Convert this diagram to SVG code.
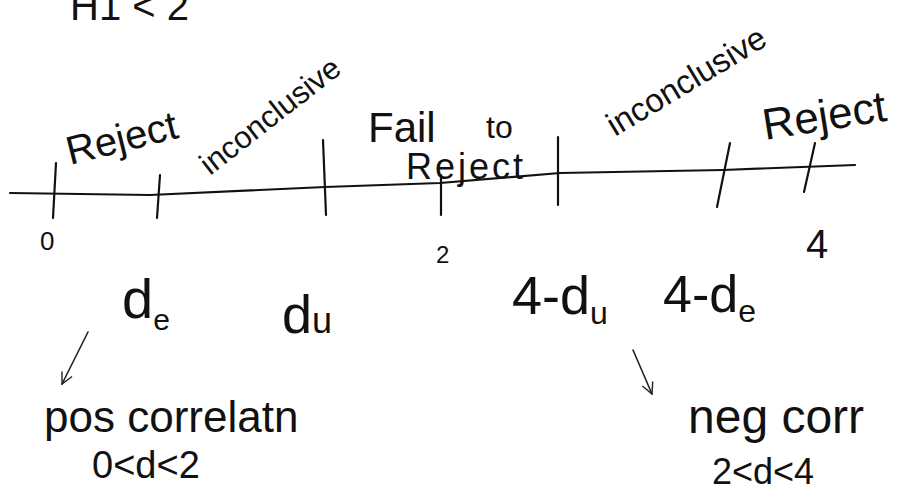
<svg xmlns="http://www.w3.org/2000/svg" width="913" height="491" viewBox="0 0 913 491">
<defs>
<style>
.t{font-family:"Liberation Sans","DejaVu Sans",sans-serif;fill:#111;}
.ln{stroke:#111;stroke-width:2.2;fill:none;stroke-linecap:round;}
.ar{stroke:#222;stroke-width:1.6;fill:none;stroke-linecap:round;}
</style>
<marker id="head" viewBox="0 0 20 20" refX="18" refY="10" markerWidth="14" markerHeight="14" orient="auto" markerUnits="userSpaceOnUse">
<path d="M2,2 L18,10 L2,18" fill="none" stroke="#222" stroke-width="2"/>
</marker>
</defs>
<rect width="913" height="491" fill="#fff"/>
<g id="title">
<text class="t" x="70" y="20" font-size="40">H1 &lt; 2</text>
</g>
<g id="axis">
<path class="ln" d="M10,193 L150,195 L325,187 L440,183 L560,173 L723,170 L855,165"/>
</g>
<g id="ticks">
<line class="ln" x1="56" y1="163" x2="53" y2="218"/>
<line class="ln" x1="160" y1="175" x2="157" y2="218"/>
<line class="ln" x1="323" y1="140" x2="326" y2="215"/>
<line class="ln" x1="441" y1="175" x2="441" y2="215"/>
<line class="ln" x1="558" y1="137" x2="558" y2="205"/>
<line class="ln" x1="730" y1="143" x2="717" y2="207"/>
<line class="ln" x1="815" y1="143" x2="804" y2="192"/>
</g>
<g id="region-reject-left">
<text class="t" x="70" y="165" font-size="40" transform="rotate(-14 70 165)">Reject</text>
</g>
<g id="region-inconclusive-left">
<text class="t" x="210" y="176" font-size="31" transform="rotate(-38 210 176)">inconclusive</text>
</g>
<g id="region-fail">
<text class="t" x="368" y="142" font-size="42">Fail<tspan x="486" y="138" font-size="32">to</tspan></text>
<text class="t" x="406" y="179" font-size="36" letter-spacing="3">Reject</text>
</g>
<g id="region-inconclusive-right">
<text class="t" x="615" y="137" font-size="33" transform="rotate(-31 615 137)">inconclusive</text>
</g>
<g id="region-reject-right">
<text class="t" x="765" y="140" font-size="44" transform="rotate(-9 765 140)">Reject</text>
</g>
<g id="labels">
<text class="t" x="40" y="250" font-size="26">0</text>
<text class="t" x="436" y="263" font-size="24">2</text>
<text class="t" x="806" y="258" font-size="40">4</text>
<text class="t" x="122" y="318" font-size="56">d<tspan font-size="30" dy="12">e</tspan></text>
<text class="t" x="282" y="333" font-size="54">d<tspan font-size="36">u</tspan></text>
<text class="t" x="512" y="314" font-size="54">4-d<tspan font-size="32" dy="10">u</tspan></text>
<text class="t" x="663" y="312" font-size="52">4-d<tspan font-size="32" dy="10">e</tspan></text>
</g>
<g id="connectors">
<line class="ar" x1="88" y1="332" x2="62" y2="384" marker-end="url(#head)"/>
<line class="ar" x1="633" y1="350" x2="652" y2="394" marker-end="url(#head)"/>
</g>
<g id="note-pos">
<text class="t" x="44" y="432" font-size="44">pos correlatn</text>
<text class="t" x="92" y="478" font-size="38">0&lt;d&lt;2</text>
</g>
<g id="note-neg">
<text class="t" x="688" y="433" font-size="48">neg corr</text>
<text class="t" x="712" y="484" font-size="36">2&lt;d&lt;4</text>
</g>
</svg>
